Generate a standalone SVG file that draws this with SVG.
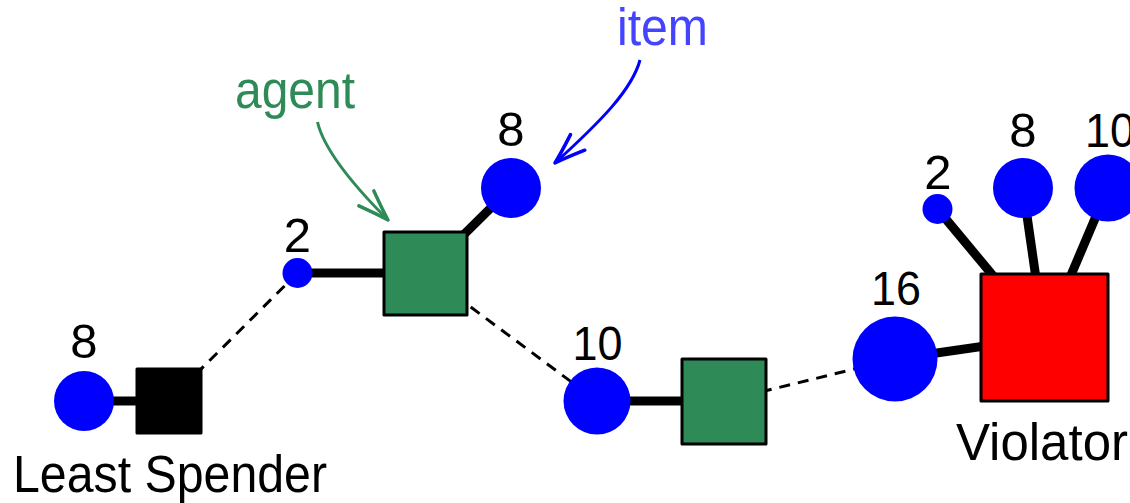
<svg xmlns="http://www.w3.org/2000/svg" width="1130" height="503" viewBox="0 0 1130 503">
  <style>
    .num { font-family: "Liberation Sans", Arial, sans-serif; font-size: 49px; fill: #000; text-anchor: middle; }
    .lbl { font-family: "Liberation Sans", Arial, sans-serif; font-size: 51px; fill: #000; }
    .item { fill: #0000ff; }
    .sq { stroke: #000; stroke-width: 3; stroke-linejoin: round; }
    .solid { stroke: #000; stroke-width: 9; fill: none; }
    .dash { stroke: #000; stroke-width: 3; fill: none; stroke-dasharray: 11 8; }
  </style>
  <defs>
    <marker id="headGreen" markerUnits="userSpaceOnUse" markerWidth="40" markerHeight="40" viewBox="-30 -15 34 30" refX="0" refY="0" orient="auto" overflow="visible">
      <path d="M-26,-9 Q-10,-3 0,0 Q-10,3 -26,9" fill="none" stroke="#2e8b57" stroke-width="3" stroke-linecap="round" stroke-linejoin="round"/>
    </marker>
    <marker id="headBlue" markerUnits="userSpaceOnUse" markerWidth="40" markerHeight="40" viewBox="-30 -15 34 30" refX="0" refY="0" orient="auto" overflow="visible">
      <path d="M-26,-9 Q-10,-3 0,0 Q-10,3 -26,9" fill="none" stroke="#0000ff" stroke-width="3" stroke-linecap="round" stroke-linejoin="round"/>
    </marker>
  </defs>

  <!-- connectors: center to center, drawn below the nodes -->
  <g id="connectors">
    <line class="solid" x1="84" y1="401" x2="169" y2="401"/>
    <line class="dash" x1="169" y1="401" x2="297.5" y2="273"/>
    <line class="solid" x1="297.5" y1="273" x2="425" y2="273"/>
    <line class="solid" x1="425" y1="273" x2="511" y2="188"/>
    <line class="dash" x1="425" y1="273" x2="597" y2="401"/>
    <line class="solid" x1="597" y1="401" x2="724" y2="401"/>
    <line class="dash" x1="724" y1="401" x2="895" y2="359"/>
    <line class="solid" x1="895" y1="359" x2="1044.5" y2="337.5"/>
    <line class="solid" x1="937.5" y1="209" x2="1044.5" y2="337.5"/>
    <line class="solid" x1="1023" y1="188" x2="1044.5" y2="337.5"/>
    <line class="solid" x1="1108" y1="188" x2="1044.5" y2="337.5"/>
  </g>

  <!-- annotation arrows -->
  <g id="annotations">
    <path d="M317.5,122 C324,150 356,188 388,220" fill="none" stroke="#2e8b57" stroke-width="3" marker-end="url(#headGreen)"/>
    <text x="235" y="108" class="lbl" fill="#2e8b57" style="fill:#2e8b57" textLength="120" lengthAdjust="spacingAndGlyphs">agent</text>
    <path d="M640,60 C632,90 600,122 555,163" fill="none" stroke="#0000ff" stroke-width="3" marker-end="url(#headBlue)"/>
    <text x="617" y="45" class="lbl" style="fill:#4444ff" textLength="91" lengthAdjust="spacingAndGlyphs">item</text>
  </g>

  <!-- least spender -->
  <g id="ls-item">
    <circle cx="84" cy="401" r="30" fill="#0000ff"/>
    <text x="84" y="358" class="num">8</text>
  </g>
  <g id="ls-agent">
    <rect x="137" y="369" width="64" height="64" fill="#000" class="sq"/>
    <text x="13" y="492" class="lbl" textLength="314" lengthAdjust="spacingAndGlyphs">Least Spender</text>
  </g>

  <!-- first green agent -->
  <g id="item-2a">
    <circle cx="297.5" cy="273" r="15" fill="#0000ff"/>
    <text x="297.5" y="252" class="num">2</text>
  </g>
  <g id="agent-a">
    <rect x="384" y="232" width="83" height="83" fill="#2e8b57" class="sq"/>
  </g>
  <g id="item-8a">
    <circle cx="511" cy="188" r="30" fill="#0000ff"/>
    <text x="511" y="146" class="num">8</text>
  </g>

  <!-- second green agent -->
  <g id="item-10a">
    <circle cx="597" cy="401" r="33.5" fill="#0000ff"/>
    <text x="597.5" y="360" class="num" textLength="50" lengthAdjust="spacingAndGlyphs">10</text>
  </g>
  <g id="agent-b">
    <rect x="682" y="359" width="84" height="85" fill="#2e8b57" class="sq"/>
  </g>

  <!-- violator -->
  <g id="item-16">
    <circle cx="895" cy="359" r="42.5" fill="#0000ff"/>
    <text x="896" y="305" class="num" textLength="50" lengthAdjust="spacingAndGlyphs">16</text>
  </g>
  <g id="item-2b">
    <circle cx="937.5" cy="209" r="15" fill="#0000ff"/>
    <text x="938" y="189" class="num">2</text>
  </g>
  <g id="item-8b">
    <circle cx="1023" cy="188" r="30" fill="#0000ff"/>
    <text x="1023" y="147" class="num">8</text>
  </g>
  <g id="item-10b">
    <circle cx="1108" cy="188" r="33.5" fill="#0000ff"/>
    <text x="1110" y="147" class="num" textLength="50" lengthAdjust="spacingAndGlyphs">10</text>
  </g>
  <g id="violator">
    <rect x="981" y="274" width="127" height="127" fill="#ff0000" class="sq"/>
    <text x="956" y="460" class="lbl">Violator</text>
  </g>
</svg>
